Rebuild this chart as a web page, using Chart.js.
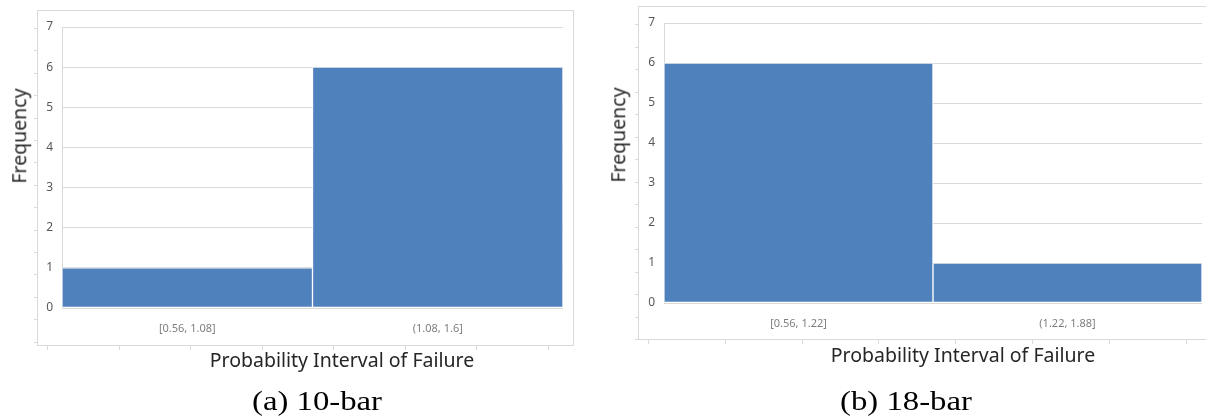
<!DOCTYPE html>
<html>
<head>
<meta charset="utf-8">
<script src="https://cdn.jsdelivr.net/npm/chart.js@4/dist/chart.umd.min.js"></script>
<style>
  body { margin:0; background:#fff; width:1206px; height:419px; position:relative; overflow:hidden; }
  .wrap { position:absolute; }
  .ytitle, .xtitle { position:absolute; font-family:"Noto Sans", sans-serif; font-size:19.5px; line-height:1; color:#262626; white-space:nowrap; }
  .ytitle { transform:translate(-50%,-50%) rotate(-90deg); }
  .xtitle { transform:translate(-50%,-50%); }
  .cap { position:absolute; font-family:"Liberation Serif", serif; font-size:28px; line-height:1; color:#000; white-space:nowrap; transform:translate(-50%,-50%) scaleX(1.17); }
</style>
</head>
<body>

<div class="wrap" style="left:27px;top:0;width:556px;height:355px"><canvas id="chartA" width="556" height="355"></canvas></div>
<div class="wrap" style="left:628px;top:0;width:578px;height:350px"><canvas id="chartB" width="578" height="350"></canvas></div>

<div class="ytitle" style="left:19px;top:136px">Frequency</div>
<div class="ytitle" style="left:618px;top:135px">Frequency</div>
<div class="xtitle" style="left:342px;top:360px">Probability Interval of Failure</div>
<div class="xtitle" style="left:963px;top:355px">Probability Interval of Failure</div>
<div class="cap" style="left:317px;top:401px">(a) 10-bar</div>
<div class="cap" style="left:906px;top:401px">(b) 18-bar</div>

<script>
// (a) 10-bar
const labelsA = ["[0.56, 1.08]", "(1.08, 1.6]"];
const freqA = [1, 6];

// (b) 18-bar
const labelsB = ["[0.56, 1.22]", "(1.22, 1.88]"];
const freqB = [6, 1];

const yMax = 7;

const BAR = "#4f81bd";
const GRID = "#d9d9d9";

// outer frame + the little ruler ticks around it
const framePlugin = {
  id: "frame",
  beforeDraw(chart, args, o) {
    const c = chart.ctx;
    c.save();
    c.strokeStyle = GRID;
    c.lineWidth = 1;
    c.strokeRect(o.left + 0.5, o.top + 0.5, o.right - o.left, o.bottom - o.top);
    c.beginPath();
    for (let y = o.top + o.lstart; y < o.bottom + 8; y += o.lstep) {
      c.moveTo(o.left - 3, Math.round(y) + 0.5);
      c.lineTo(o.left, Math.round(y) + 0.5);
    }
    for (let x = o.left + o.bstart; x < chart.width; x += o.bstep) {
      c.moveTo(Math.round(x) + 0.5, o.bottom + 1);
      c.lineTo(Math.round(x) + 0.5, o.bottom + 5);
    }
    c.stroke();
    c.restore();
  }
};

function drawHist(id, labels, data, pad, frame) {
  const ctx = document.getElementById(id);
  return new Chart(ctx, {
    type: "bar",
    data: {
      labels: labels,
      datasets: [{
        data: data,
        backgroundColor: BAR,
        borderColor: "rgba(255,255,255,0.55)",
        borderWidth: 1,
        borderSkipped: false,
        categoryPercentage: 1,
        barPercentage: 1
      }]
    },
    options: {
      responsive: false,
      animation: false,
      layout: { padding: pad },
      plugins: { legend: { display: false }, tooltip: { enabled: false }, frame: frame },
      scales: {
        x: {
          grid: { display: false, drawTicks: false },
          border: { display: false },
          ticks: { padding: 14, color: "#7f7f7f", font: { family: "Noto Sans", size: 11 } },
          afterFit: s => { s.height = 37; }
        },
        y: {
          min: 0, max: yMax,
          grid: { color: GRID, drawTicks: false },
          border: { display: true, color: GRID },
          ticks: { stepSize: 1, padding: 9, color: "#595959", font: { family: "Noto Sans", size: 12 } },
          afterFit: s => { s.width = 25; }
        }
      }
    },
    plugins: [framePlugin]
  });
}

drawHist("chartA", labelsA, freqA,
  { top: 27, right: 20, bottom: 10, left: 10 },
  { left: 10, top: 10, right: 546, bottom: 345, lstart: 18, lstep: 22.4, bstart: 10, bstep: 71.5 });

drawHist("chartB", labelsB, freqB,
  { top: 23, right: 4, bottom: 10, left: 11 },
  { left: 10, top: 6, right: 600, bottom: 339, lstart: 18, lstep: 22.5, bstart: 10, bstep: 76.8 });
</script>
</body>
</html>
